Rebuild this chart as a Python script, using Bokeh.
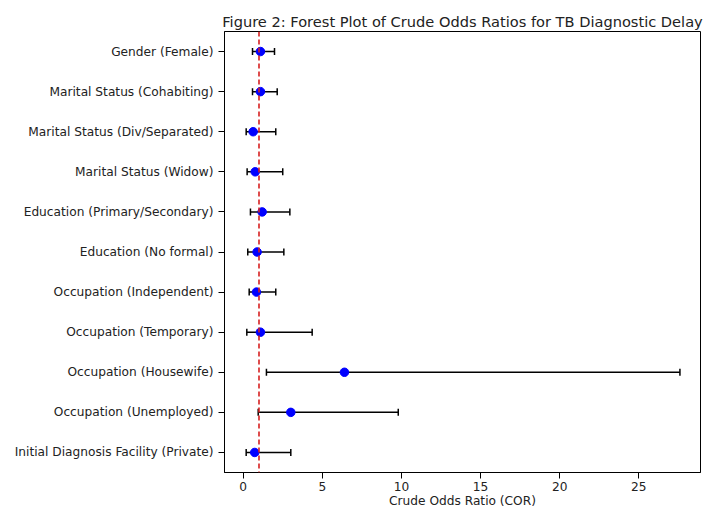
from bokeh.plotting import figure
from bokeh.models import Span, FixedTicker, ColumnDataSource
from bokeh.embed import file_html
from bokeh.resources import INLINE
import math

categories = [
    "Gender (Female)",
    "Marital Status (Cohabiting)",
    "Marital Status (Div/Separated)",
    "Marital Status (Widow)",
    "Education (Primary/Secondary)",
    "Education (No formal)",
    "Occupation (Independent)",
    "Occupation (Temporary)",
    "Occupation (Housewife)",
    "Occupation (Unemployed)",
    "Initial Diagnosis Facility (Private)",
]
cor = [1.09, 1.09, 0.63, 0.76, 1.20, 0.88, 0.84, 1.09, 6.40, 3.01, 0.73]
ci_lower = [0.59, 0.59, 0.19, 0.25, 0.46, 0.29, 0.38, 0.23, 1.47, 0.95, 0.19]
ci_upper = [1.98, 2.15, 2.06, 2.50, 2.95, 2.57, 2.06, 4.36, 27.6, 9.80, 3.01]
x_ticks = [0, 5, 10, 15, 20, 25]

src = ColumnDataSource(dict(cat=categories, cor=cor, lo=ci_lower, hi=ci_upper))

FONT = "DejaVu Sans"
p = figure(
    width=706, height=510,
    y_range=list(reversed(categories)),
    x_range=(-1.18, 28.9),
    output_backend="svg", toolbar_location=None,
    title="Figure 2: Forest Plot of Crude Odds Ratios for TB Diagnostic Delay",
    min_border_left=224, min_border_right=6, min_border_top=31, min_border_bottom=37,
)
p.y_range.range_padding = 0
p.title.text_font = FONT
p.title.text_font_size = "14.6px"
p.title.text_font_style = "normal"
p.title.align = "center"
p.title.text_color = "#222222"
p.title.offset = 0
p.title.standoff = 3

p.segment(x0="lo", y0="cat", x1="hi", y1="cat", source=src, line_color="black", line_width=1.5)
p.scatter(x="lo", y="cat", source=src, marker="dash", angle=math.pi / 2, size=7,
          line_color="black", line_width=1.5)
p.scatter(x="hi", y="cat", source=src, marker="dash", angle=math.pi / 2, size=7,
          line_color="black", line_width=1.5)
p.scatter(x="cor", y="cat", source=src, marker="circle", size=8.5,
          fill_color="#0000ff", line_color="#0000ff")

p.add_layout(Span(location=1, dimension="height", line_color="#d62020",
                  line_dash="5 3", line_width=1.6))

p.xgrid.visible = False
p.ygrid.visible = False
p.outline_line_color = "black"
p.outline_line_width = 1
p.background_fill_color = "white"

p.xaxis.ticker = FixedTicker(ticks=x_ticks)
p.xaxis.minor_tick_line_color = None
p.xaxis.axis_label = "Crude Odds Ratio (COR)"
p.xaxis.axis_label_text_font = FONT
p.xaxis.axis_label_text_font_size = "12.2px"
p.xaxis.axis_label_text_font_style = "normal"
p.xaxis.axis_label_text_color = "#222222"
p.xaxis.axis_label_standoff = 0
for ax in (p.xaxis, p.yaxis):
    ax.major_label_text_font = FONT
    ax.major_label_text_font_size = "12.2px"
    ax.major_label_text_color = "#222222"
    ax.axis_line_color = "black"
    ax.major_tick_line_color = "black"
    ax.major_tick_out = 6
    ax.major_tick_in = 0
p.xaxis.major_label_standoff = 3
p.yaxis.major_label_standoff = 5

open("out.html", "w").write(file_html(p, INLINE))
